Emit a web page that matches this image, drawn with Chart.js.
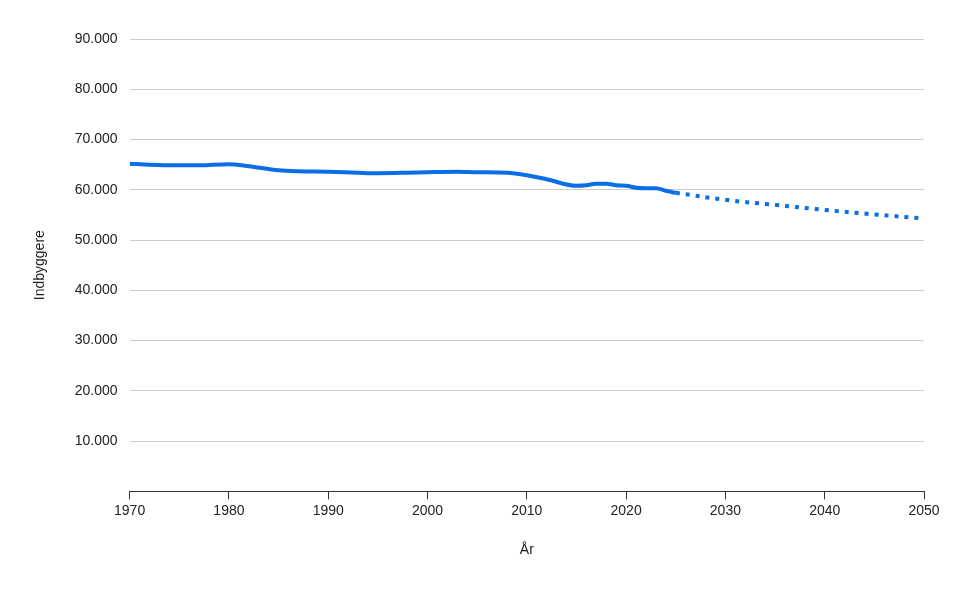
<!DOCTYPE html>
<html><head><meta charset="utf-8">
<script src="https://cdn.jsdelivr.net/npm/chart.js@4"></script>
<style>body{margin:0;background:#fff}#c{width:954px;height:590px}</style>
</head><body><div id="c"><canvas id="cv" width="954" height="590"></canvas></div>
<script>
const histYears = [1970,1972,1975,1977,1980,1982,1985,1987,1990,1993,1995,1998,2000,2003,2005,2008,2010,2012,2015,2016,2017,2018,2019,2020,2021,2022,2023,2024,2025];
const histValues = [65200,65000,64900,64900,65100,64700,63900,63700,63600,63400,63300,63400,63500,63600,63500,63400,62900,62100,60800,60900,61200,61200,60900,60800,60400,60300,60300,59800,59400];
const projYears = [2025,2030,2035,2040,2045,2050];
const projValues = [59400,58000,57000,56000,55100,54300];
const toPts=(xs,ys)=>xs.map((x,i)=>({x,y:ys[i]}));
const font={family:'Arial, "Liberation Sans", sans-serif',size:14};
new Chart(document.getElementById('cv'),{
type:'line',
data:{datasets:[
{data:toPts(histYears,histValues),borderColor:'#0a6ee6',borderWidth:4,pointRadius:0,tension:0.4,cubicInterpolationMode:'monotone'},
{data:toPts(projYears,projValues),borderColor:'#0a6ee6',borderWidth:4,borderDash:[4,6],pointRadius:0,tension:0.4}
]},
options:{responsive:false,animation:false,
layout:{padding:{left:28,right:30,top:39,bottom:27}},
plugins:{legend:{display:false},tooltip:{enabled:false}},
scales:{
x:{type:'linear',min:1970,max:2050,
 ticks:{stepSize:10,color:'#222',font,callback:v=>String(v)},
 grid:{display:true,drawOnChartArea:false,drawTicks:true,tickLength:8,color:'#333'},
 border:{color:'#333',width:1},
 title:{display:true,text:'År',color:'#222',font,padding:{top:20}}},
y:{min:0,max:90000,
 ticks:{stepSize:10000,color:'#222',font,padding:12,callback:v=>v===0?'':v.toLocaleString('da-DK')},
 grid:{color:'#cccccc',drawTicks:false},
 border:{display:false},
 title:{display:true,text:'Indbyggere',color:'#222',font,padding:{bottom:14}}}
}}});
</script></body></html>
